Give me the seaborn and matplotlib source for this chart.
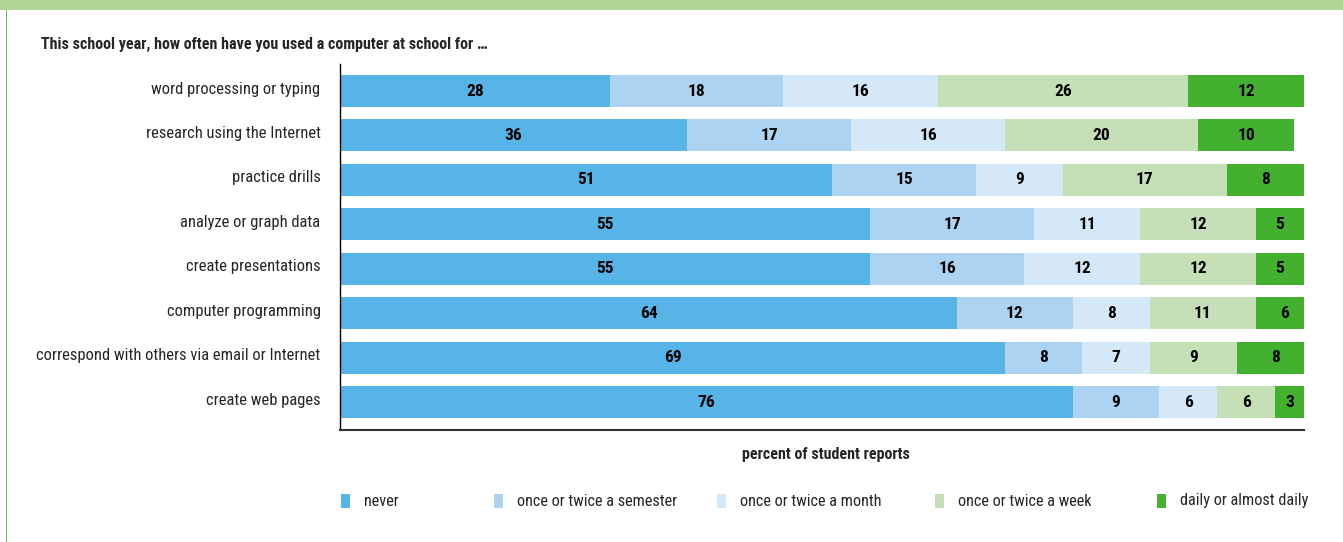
import matplotlib
matplotlib.use("Agg")
import matplotlib.pyplot as plt
from matplotlib import font_manager
from matplotlib.patches import Rectangle
import matplotlib.transforms as mtransforms
import seaborn as sns
import pandas as pd
import numpy as np

# Survey items (rows, top to bottom)
activities = [
    "word processing or typing",
    "research using the Internet",
    "practice drills",
    "analyze or graph data",
    "create presentations",
    "computer programming",
    "correspond with others via email or Internet",
    "create web pages",
]

# Percent of student reports per frequency category
never = [28, 36, 51, 55, 55, 64, 69, 76]
semester = [18, 17, 15, 17, 16, 12, 8, 9]
month = [16, 16, 9, 11, 12, 8, 7, 6]
week = [26, 20, 17, 12, 12, 11, 9, 6]
daily = [12, 10, 8, 5, 5, 6, 8, 3]

categories = [
    "never",
    "once or twice a semester",
    "once or twice a month",
    "once or twice a week",
    "daily or almost daily",
]
colors = ["#56b4e7", "#acd3f1", "#d5e8f7", "#c5dfb7", "#43b02f"]

question = "This school year, how often have you used a computer at school for \u2026"
x_title = "percent of student reports"

sns.set_theme(style="white")
available = {f.name for f in font_manager.fontManager.ttflist}
family = [f for f in ["Roboto Condensed", "Liberation Sans Narrow", "Liberation Sans"]
          if f in available] + ["DejaVu Sans"]
plt.rcParams["font.family"] = family

series = [never, semester, month, week, daily]
cum = np.cumsum(np.array(series), axis=0)

fig = plt.figure(figsize=(13.43, 5.42), dpi=100)
ax = fig.add_axes([0.2532, 0.2066, 0.7178, 0.6754])

# Stacked bars: draw cumulative totals from the widest down
for i in range(len(categories) - 1, -1, -1):
    d = pd.DataFrame({"activity": activities, "total": cum[i]})
    sns.barplot(data=d, x="total", y="activity", orient="h", color=colors[i],
                saturation=1, width=0.72, ax=ax, linewidth=0)

# Segment value labels
for i, vals in enumerate(series):
    for r, v in enumerate(vals):
        xc = cum[i][r] - v / 2
        ax.text(xc, r, f"{v}", ha="center", va="center", fontsize=12.5,
                fontweight="bold", color="black")

ax.set_xlim(0, 100)
ax.set_ylim(7.63, -0.61)
ax.set_xticks([])
ax.set_xlabel("")
ax.set_ylabel("")
ax.tick_params(axis="y", length=0, pad=14, labelsize=11.9)
shift = mtransforms.ScaledTranslation(0, 2 / 100, fig.dpi_scale_trans)
for lab in ax.get_yticklabels():
    lab.set_verticalalignment("center")
    lab.set_transform(lab.get_transform() + shift)
for s in ["top", "right"]:
    ax.spines[s].set_visible(False)
ax.spines["left"].set_color("black")
ax.spines["left"].set_linewidth(1.0)
ax.spines["bottom"].set_color("#333333")
ax.spines["bottom"].set_linewidth(1.5)

W, H = 1343, 542
fig.text(826 / W, 1 - 455 / H, x_title, ha="center", va="center",
         fontsize=11.5, fontweight="bold")
fig.text(41 / W, 1 - 44 / H, question, ha="left", va="center",
         fontsize=11.5, fontweight="bold")

# Header band and frame line
fig.add_artist(Rectangle((0, 1 - 10 / H), 1, 10 / H, transform=fig.transFigure,
                         facecolor="#b0d396", edgecolor="none"))
fig.add_artist(Rectangle((6 / W, 0), 1.2 / W, 1 - 10 / H, transform=fig.transFigure,
                         facecolor="#6cbf4a", edgecolor="none"))

# Legend
leg_x = [341, 494, 717, 935, 1157]
for x0, name, c in zip(leg_x, categories, colors):
    fig.add_artist(Rectangle((x0 / W, 1 - 508 / H), 9 / W, 14 / H,
                             transform=fig.transFigure, facecolor=c, edgecolor="none"))
    fig.text((x0 + 23) / W, 1 - 501 / H, name, ha="left", va="center", fontsize=11.7)

fig.savefig("out.png", dpi=100)
